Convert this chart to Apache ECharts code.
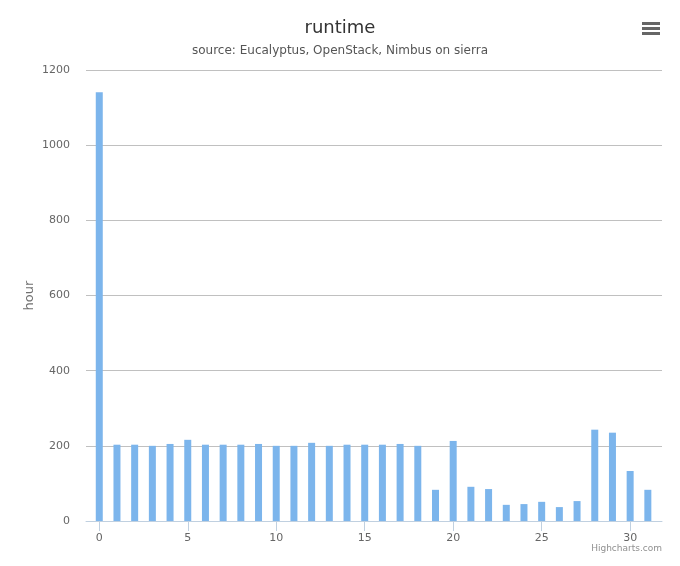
<!DOCTYPE html>
<html>
<head>
<meta charset="utf-8">
<script src="https://cdn.jsdelivr.net/npm/echarts@6/dist/echarts.min.js"></script>
<style>
  html, body { margin: 0; padding: 0; background: #fff; }
  #chart { width: 680px; height: 566px; }
</style>
</head>
<body>
<div id="chart"></div>
<script>
// runtime per slot
var slots = [0, 1, 2, 3, 4, 5, 6, 7, 8, 9, 10, 11, 12, 13, 14, 15,
             16, 17, 18, 19, 20, 21, 22, 23, 24, 25, 26, 27, 28, 29, 30, 31];
var hours = [1141, 203, 203, 200, 205, 216, 203, 203, 203, 205, 200, 200, 208, 200, 203, 203,
             203, 205, 200, 83, 213, 91, 85, 43, 45, 51, 37, 53, 243, 235, 133, 83];
var xTicks = [0, 5, 10, 15, 20, 25, 30];

var font = "'DejaVu Sans', Verdana, sans-serif";
var myChart = echarts.init(document.getElementById("chart"));

var barData = [];
for (var i = 0; i < slots.length; i++) {
	barData.push([slots[i], hours[i]]);
}

var option = {
	animation: false,
	backgroundColor: '#fff',
	textStyle: { fontFamily: font },
	title: {
		text: 'runtime',
		subtext: 'source: Eucalyptus, OpenStack, Nimbus on sierra',
		left: 'center',
		top: 14,
		itemGap: 8,
		textStyle: { fontFamily: font, fontSize: 18, fontWeight: 'normal', color: '#333' },
		subtextStyle: { fontFamily: font, fontSize: 12, color: '#555' }
	},
	grid: { left: 86, right: 18, top: 70, bottom: 45, containLabel: false },
	xAxis: {
		type: 'value',
		min: -0.75,
		max: 31.8,
		splitLine: { show: false },
		axisLine: { show: true, lineStyle: { color: '#C0D0E0', width: 1 } },
		axisTick: { show: true, length: 10, customValues: xTicks, lineStyle: { color: '#C0D0E0' } },
		axisLabel: { customValues: xTicks, color: '#666', fontSize: 11, fontFamily: font, margin: 12 }
	},
	yAxis: {
		type: 'value',
		min: 0,
		max: 1200,
		interval: 200,
		name: 'hour',
		nameLocation: 'middle',
		nameGap: 50,
		nameMoveOverlap: false,
		nameTextStyle: { color: '#707070', fontSize: 13, fontFamily: font },
		axisLine: { show: false },
		axisTick: { show: false },
		axisLabel: {
			color: '#666', fontSize: 11, fontFamily: font, margin: 16,
			formatter: function (value) { return String(value); }
		},
		splitLine: { lineStyle: { color: '#C0C0C0', width: 1 } }
	},
	series: [{
		type: 'bar',
		data: barData,
		barWidth: 7,
		itemStyle: { color: '#7cb5ec' }
	}],
	graphic: [
		{ type: 'rect', shape: { x: 642, y: 22, width: 18, height: 3 }, style: { fill: '#666' } },
		{ type: 'rect', shape: { x: 642, y: 27, width: 18, height: 3 }, style: { fill: '#666' } },
		{ type: 'rect', shape: { x: 642, y: 32, width: 18, height: 3 }, style: { fill: '#666' } },
		{ type: 'text', right: 18, top: 544,
		  style: { text: 'Highcharts.com', fill: '#909090', fontSize: 9, fontFamily: font } }
	]
};

myChart.setOption(option);
</script>
</body>
</html>
